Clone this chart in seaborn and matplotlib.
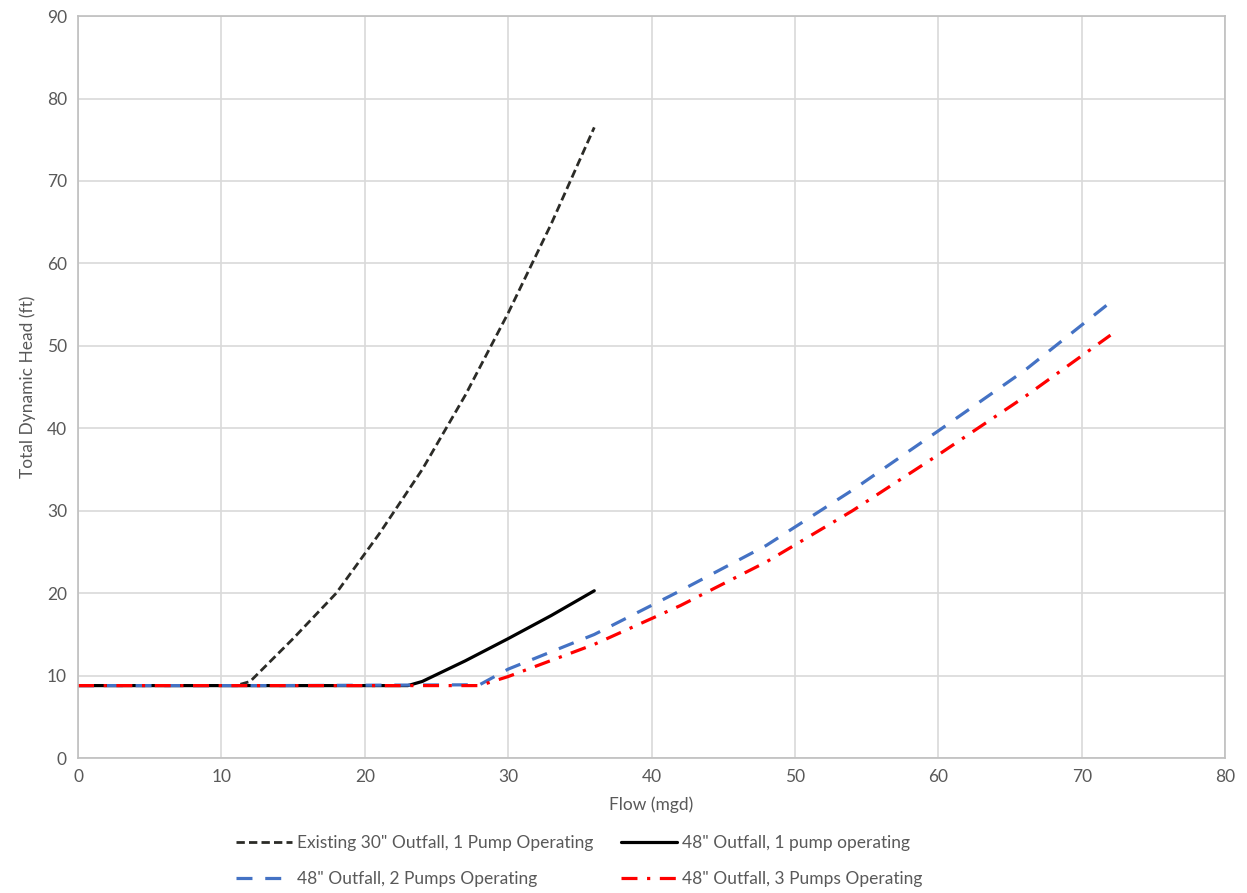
import numpy as np
import pandas as pd
import seaborn as sns
import matplotlib.pyplot as plt

# Data
flow_existing = [0, 6, 11, 12, 15, 18, 21, 24, 27, 30, 33, 36]
tdh_existing = [8.8, 8.8, 8.8, 9.3, 14.5, 20.0, 27.2, 35.0, 44.0, 54.0, 64.8, 76.5]

flow_48_1 = [0, 12, 23, 24, 27, 30, 33, 36]
tdh_48_1 = [8.8, 8.8, 8.8, 9.3, 11.8, 14.5, 17.3, 20.3]

flow_48_2 = [0, 14, 28, 30, 36, 42, 48, 54, 60, 66, 72]
tdh_48_2 = [8.8, 8.8, 8.9, 10.8, 15.0, 20.3, 25.8, 32.5, 39.7, 47.0, 55.3]

flow_48_3 = [0, 14, 28, 30, 36, 42, 48, 54, 60, 66, 72]
tdh_48_3 = [8.8, 8.8, 8.8, 9.9, 13.8, 18.5, 23.8, 30.0, 36.8, 43.8, 51.3]

labels = ['Existing 30" Outfall, 1 Pump Operating',
          '48" Outfall, 1 pump operating',
          '48" Outfall, 2 Pumps Operating',
          '48" Outfall, 3 Pumps Operating']

sns.set_theme(style="whitegrid")
plt.rcParams['font.family'] = ['Lato', 'DejaVu Sans']

fig, ax = plt.subplots(figsize=(12.47, 8.93), dpi=100)
fig.subplots_adjust(left=0.0626, right=0.9825, top=0.982, bottom=0.151)

series = [
    (flow_existing, tdh_existing, '#2b2b27', (0, (3, 1.5)), 2.0),
    (flow_48_1, tdh_48_1, '#000000', '-', 2.3),
    (flow_48_2, tdh_48_2, '#4472C4', (0, (5, 4)), 2.3),
    (flow_48_3, tdh_48_3, '#FF0000', (0, (5, 3, 1, 3)), 2.3),
]
for (x, y, c, ls, lw), lab in zip(series, labels):
    df = pd.DataFrame({'Flow': x, 'TDH': y})
    sns.lineplot(data=df, x='Flow', y='TDH', ax=ax, color=c, linestyle=ls,
                 linewidth=lw, label=lab)

ax.set_xlim(0, 80)
ax.set_ylim(0, 90)
ax.set_xticks(range(0, 81, 10))
ax.set_yticks(range(0, 91, 10))
ax.grid(True, color='#d9d9d9', linewidth=1.2)
for s in ax.spines.values():
    s.set_color('#bfbfbf')
    s.set_linewidth(1.2)
ax.tick_params(axis='both', length=0, labelsize=12.5, colors='#595959', pad=8)

ax.set_xlabel('Flow (mgd)', fontsize=12.5, color='#595959', labelpad=8)
ax.set_ylabel('Total Dynamic Head (ft)', fontsize=12.5, color='#595959', labelpad=8)

# legend fills column-wise, so reorder to get Excel's row layout
handles, labs = ax.get_legend_handles_labels()
order = [0, 2, 1, 3]
ax.legend([handles[i] for i in order], [labs[i] for i in order],
          loc='upper center', bbox_to_anchor=(0.437, -0.082), ncol=2, frameon=False,
          fontsize=12.5, handlelength=3.2, columnspacing=1.6, handletextpad=0.3,
          labelspacing=1.2, labelcolor='#595959')

fig.savefig('out.png', dpi=100)
